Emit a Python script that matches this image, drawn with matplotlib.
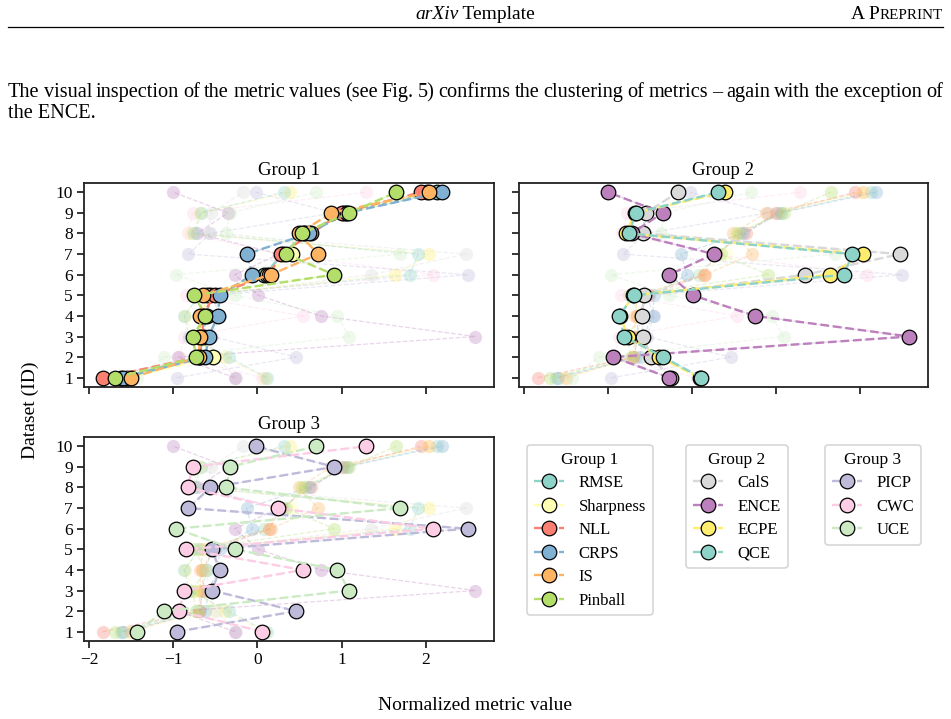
import matplotlib
matplotlib.use("Agg")
import matplotlib.pyplot as plt
from matplotlib.lines import Line2D
import numpy as np

plt.rcParams['font.family'] = ['Liberation Serif', 'DejaVu Serif']
plt.rcParams['mathtext.fontset'] = 'stix'

datasets = list(range(1, 11))

metrics = ["RMSE", "Sharpness", "PICP", "NLL", "CRPS", "IS", "Pinball",
           "CWC", "CalS", "ENCE", "UCE", "ECPE", "QCE"]

RMSE = [-1.62, -0.68, -0.66, -0.60, -0.56, 0.08, 0.30, 0.57, 1.03, 2.13]
Sharpness = [-1.55, -0.53, -0.70, -0.65, -0.60, 0.11, 0.41, 0.55, 1.05, 2.02]
NLL = [-1.84, -0.70, -0.64, -0.66, -0.51, 0.14, 0.28, 0.64, 1.00, 1.94]
CRPS = [-1.60, -0.62, -0.58, -0.47, -0.45, -0.06, -0.13, 0.61, 1.06, 2.19]
IS = [-1.50, -0.70, -0.68, -0.68, -0.65, 0.16, 0.72, 0.49, 0.88, 2.04]
Pinball = [-1.69, -0.73, -0.77, -0.62, -0.75, 0.91, 0.34, 0.53, 1.09, 1.65]

CalS = [-0.25, -0.49, -0.58, -0.60, -0.57, 1.35, 2.48, -0.59, -0.55, -0.17]
ENCE = [-0.27, -0.94, 2.59, 0.75, 0.01, -0.27, 0.26, -0.72, -0.35, -1.00]
ECPE = [0.09, -0.39, -0.76, -0.86, -0.70, 1.64, 2.04, -0.79, -0.68, 0.39]
QCE = [0.11, -0.34, -0.81, -0.87, -0.69, 1.81, 1.91, -0.75, -0.67, 0.31]

PICP = [-0.96, 0.46, -0.54, -0.45, -0.54, 2.50, -0.82, -0.56, 0.91, -0.02]
CWC = [0.06, -0.93, -0.87, 0.54, -0.85, 2.09, 0.24, -0.83, -0.77, 1.29]
UCE = [-1.43, -1.11, 1.09, 0.95, -0.27, -0.97, 1.70, -0.37, -0.33, 0.70]

values = {"RMSE": RMSE, "Sharpness": Sharpness, "PICP": PICP, "NLL": NLL,
          "CRPS": CRPS, "IS": IS, "Pinball": Pinball, "CWC": CWC,
          "CalS": CalS, "ENCE": ENCE, "UCE": UCE, "ECPE": ECPE, "QCE": QCE}

groups = {
    "Group 1": ["RMSE", "Sharpness", "NLL", "CRPS", "IS", "Pinball"],
    "Group 2": ["CalS", "ENCE", "ECPE", "QCE"],
    "Group 3": ["PICP", "CWC", "UCE"],
}

set3 = ['#8dd3c7', '#ffffb3', '#bebada', '#fb8072', '#80b1d3', '#fdb462',
        '#b3de69', '#fccde5', '#d9d9d9', '#bc80bd', '#ccebc5', '#ffed6f']
colors = {m: set3[i % len(set3)] for i, m in enumerate(metrics)}

W, H = 951, 719
fig = plt.figure(figsize=(W / 100, H / 100), dpi=100)


def box(l, t, r, b):
    return [l / W, 1 - b / H, (r - l) / W, (b - t) / H]


ax1 = fig.add_axes(box(84, 183, 494, 387))
ax2 = fig.add_axes(box(519, 183, 928, 387), sharex=ax1, sharey=ax1)
ax3 = fig.add_axes(box(84, 437, 494, 641), sharex=ax1, sharey=ax1)

for ax, gname in zip([ax1, ax2, ax3], groups):
    for m in metrics:
        ax.plot(values[m], datasets, linestyle='--', lw=0.9, color=colors[m],
                alpha=0.33, marker='o', markersize=9.5, markeredgewidth=0, zorder=1)
    for m in groups[gname]:
        ax.plot(values[m], datasets, linestyle='--', lw=1.7, color=colors[m],
                marker='o', markersize=10.5, markeredgecolor='black',
                markeredgewidth=0.9, zorder=3)
    ax.set_title(gname, fontsize=13.5, pad=6)
    ax.set_yticks(datasets)
    ax.set_xticks([-2, -1, 0, 1, 2])
    ax.tick_params(direction='out', length=5, width=1.1, labelsize=12.5,
                   colors='black', pad=3)
    for s in ax.spines.values():
        s.set_linewidth(1.3)
        s.set_color('#222222')

ax1.tick_params(labelbottom=False)
ax2.tick_params(labelbottom=False, labelleft=False)
ax3.set_xticklabels(['\u22122', '\u22121', '0', '1', '2'])

fig.text(30 / W, 1 - 410 / H, "Dataset (ID)", rotation=90, ha='center', va='center', fontsize=14)
fig.text(475 / W, 1 - 706 / H, "Normalized metric value", ha='center', va='center', fontsize=14)

# Legends
leg_pos = {"Group 1": (527, 445), "Group 2": (686, 445), "Group 3": (825, 445)}
for gname, mlist in groups.items():
    handles = [Line2D([0], [0], color=colors[m], linestyle='--', lw=1.7, marker='o',
                      markersize=10.5, markeredgecolor='black', markeredgewidth=0.9)
               for m in mlist]
    x0, y0 = leg_pos[gname]
    leg = fig.legend(handles, mlist, title=gname, loc='upper left',
                     bbox_to_anchor=(x0 / W, 1 - y0 / H), fontsize=12,
                     title_fontsize=12.5, frameon=True, handlelength=1.8,
                     handletextpad=0.9, labelspacing=0.45, borderpad=0.4,
                     borderaxespad=0, fancybox=True)
    leg.get_frame().set_edgecolor('#cccccc')
    leg.get_frame().set_linewidth(1.2)

# Header and body text
fig.canvas.draw()
renderer = fig.canvas.get_renderer()


def place_runs(runs, x_start, y_px):
    x = x_start
    for txt, kw in runs:
        t = fig.text(x / W, 1 - y_px / H, txt, ha='left', va='baseline', **kw)
        bb = t.get_window_extent(renderer=renderer)
        x += bb.width
    return x


def width_of(txt, kw):
    t = fig.text(0, 0, txt, **kw)
    w = t.get_window_extent(renderer=renderer).width
    t.remove()
    return w

hdr = 14
runs = [("arXiv", dict(fontsize=hdr, style='italic')), (" Template", dict(fontsize=hdr))]
tw = sum(width_of(t, k) for t, k in runs)
place_runs(runs, 475 - tw / 2, 19)

runs2 = [("A P", dict(fontsize=hdr)), ("REPRINT", dict(fontsize=hdr * 0.78))]
tw2 = sum(width_of(t, k) for t, k in runs2)
place_runs(runs2, 943 - tw2, 19)

fig.add_artist(Line2D([8 / W, 943 / W], [1 - 27 / H, 1 - 27 / H], color='black', lw=0.9))

line1 = ("The visual inspection of the metric values (see Fig. 5) confirms the clustering "
         "of metrics \u2013 again with the exception of").split(" ")
bkw = dict(fontsize=14.6)
widths = [width_of(w, bkw) for w in line1]
gap = (943 - 8 - sum(widths)) / (len(line1) - 1)
x = 8
for w, wd in zip(line1, widths):
    fig.text(x / W, 1 - 97 / H, w, ha='left', va='baseline', **bkw)
    x += wd + gap
fig.text(8 / W, 1 - 118 / H, "the ENCE.", ha='left', va='baseline', **bkw)

fig.savefig("out.png", dpi=100)
